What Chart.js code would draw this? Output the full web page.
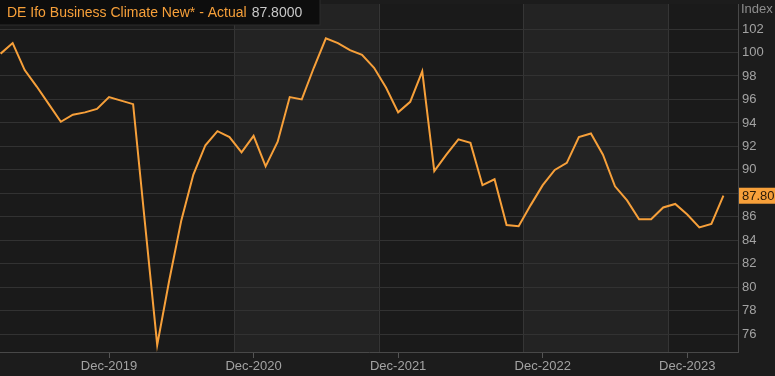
<!DOCTYPE html>
<html><head><meta charset="utf-8">
<script src="https://cdn.jsdelivr.net/npm/chart.js@4"></script>
<style>html,body{margin:0;padding:0;background:#1c1c1c;overflow:hidden}#wrap{width:775px;height:376px;position:relative}</style>
</head><body><div id="wrap"><canvas id="c" width="775" height="376"></canvas></div>
<script>
const months = ['Mar-2019','Apr-2019','May-2019','Jun-2019','Jul-2019','Aug-2019','Sep-2019','Oct-2019','Nov-2019','Dec-2019',
'Jan-2020','Feb-2020','Mar-2020','Apr-2020','May-2020','Jun-2020','Jul-2020','Aug-2020','Sep-2020','Oct-2020','Nov-2020','Dec-2020',
'Jan-2021','Feb-2021','Mar-2021','Apr-2021','May-2021','Jun-2021','Jul-2021','Aug-2021','Sep-2021','Oct-2021','Nov-2021','Dec-2021',
'Jan-2022','Feb-2022','Mar-2022','Apr-2022','May-2022','Jun-2022','Jul-2022','Aug-2022','Sep-2022','Oct-2022','Nov-2022','Dec-2022',
'Jan-2023','Feb-2023','Mar-2023','Apr-2023','May-2023','Jun-2023','Jul-2023','Aug-2023','Sep-2023','Oct-2023','Nov-2023','Dec-2023',
'Jan-2024','Feb-2024','Mar-2024'];
const values = [99.9,100.8,98.5,97.1,95.6,94.1,94.7,94.9,95.2,96.2,
95.9,95.6,85.3,75.1,80.6,85.7,89.6,92.1,93.3,92.8,91.5,92.9,
90.3,92.4,96.2,96.0,98.7,101.2,100.8,100.2,99.8,98.7,97.0,94.9,
95.8,98.4,89.9,91.3,92.6,92.3,88.7,89.2,85.3,85.2,87.0,88.7,
90.0,90.6,92.8,93.1,91.3,88.6,87.4,85.8,85.8,86.8,87.1,86.2,
85.1,85.4,87.8];
const xTickLabels = ['Dec-2019','Dec-2020','Dec-2021','Dec-2022','Dec-2023'];
const yTicks = [76,78,80,82,84,86,88,90,92,94,96,98,100,102];
const shadeStarts = ['Oct-2020','Oct-2022'];
const shadeEnds = ['Oct-2021','Oct-2023'];
const seriesName = 'DE Ifo Business Climate New* - Actual';
const lastLabel = '87.8000';
const badgeLabel = '87.80';
const unitLabel = 'Index';

const FONT = '"Liberation Sans", Arial, sans-serif';
const ORANGE = '#f7a03a';

const decor = {
  id: 'decor',
  beforeDraw(chart) {
    const {ctx, chartArea: a} = chart;
    const xs = chart.scales.x;
    ctx.save();
    ctx.fillStyle = '#1c1c1c';
    ctx.fillRect(0, 0, chart.width, chart.height);
    ctx.fillStyle = '#1a1a1a';
    ctx.fillRect(a.left, a.top, a.right - a.left, a.bottom - a.top);
    const bounds = [];
    shadeStarts.forEach((s, i) => {
      const x0 = xs.getPixelForValue(months.indexOf(s) + 0.4);
      const x1 = xs.getPixelForValue(months.indexOf(shadeEnds[i]) + 0.4);
      ctx.fillStyle = '#232323';
      ctx.fillRect(x0, a.top, x1 - x0, a.bottom - a.top);
      bounds.push(x0, x1);
    });
    ctx.strokeStyle = '#353535';
    ctx.lineWidth = 1;
    bounds.forEach(x => {
      const px = Math.round(x) + 0.5;
      ctx.beginPath(); ctx.moveTo(px, a.top); ctx.lineTo(px, a.bottom); ctx.stroke();
    });
    ctx.restore();
  },
  afterDraw(chart) {
    const {ctx, chartArea: a} = chart;
    const ys = chart.scales.y;
    ctx.save();
    ctx.fillStyle = '#0d0d0d';
    ctx.fillRect(0, 0, 320, 25);
    ctx.strokeStyle = '#2c2c2c';
    ctx.lineWidth = 1;
    ctx.strokeRect(-0.5, -0.5, 320.5, 25.5);
    ctx.font = '14px ' + FONT;
    ctx.textBaseline = 'middle';
    ctx.textAlign = 'left';
    ctx.fillStyle = ORANGE;
    ctx.fillText(seriesName, 7, 13);
    const w = ctx.measureText(seriesName).width;
    ctx.fillStyle = '#c9c9c9';
    ctx.fillText(lastLabel, 7 + w + 5, 13);
    ctx.font = '13px ' + FONT;
    ctx.fillStyle = '#8e8e8e';
    ctx.fillText(unitLabel, a.right + 3, 9);
    const by = ys.getPixelForValue(values[values.length - 1]);
    ctx.fillStyle = ORANGE;
    ctx.fillRect(a.right + 1, by - 8, chart.width - a.right - 1, 16);
    ctx.fillStyle = '#2a1a08';
    ctx.fillText(badgeLabel, a.right + 4, by + 0.5);
    ctx.restore();
  }
};

new Chart(document.getElementById('c'), {
  type: 'line',
  data: {
    datasets: [{
      label: seriesName,
      data: values.map((v, i) => ({x: i, y: v})),
      borderColor: ORANGE,
      borderWidth: 2,
      pointRadius: 0,
      tension: 0,
      fill: false
    }]
  },
  options: {
    responsive: false,
    animation: false,
    devicePixelRatio: 1,
    layout: {padding: {top: 4, left: 0, right: 0, bottom: 0}},
    plugins: {legend: {display: false}, tooltip: {enabled: false}},
    scales: {
      x: {
        type: 'linear',
        min: -0.05,
        max: 61.21,
        afterBuildTicks: s => { s.ticks = xTickLabels.map(l => ({value: months.indexOf(l)})); },
        afterFit: s => { s.height = 24; s.paddingLeft = 0; s.paddingRight = 0; },
        ticks: {
          callback: v => months[v],
          color: '#a3a3a3',
          font: {size: 13, family: FONT},
          maxRotation: 0,
          autoSkip: false,
          padding: 1
        },
        grid: {drawOnChartArea: false, color: '#555555', tickLength: 6},
        border: {color: '#484848'}
      },
      y: {
        position: 'right',
        min: 74.49,
        max: 104.13,
        afterBuildTicks: s => { s.ticks = yTicks.map(v => ({value: v})); },
        afterFit: s => { s.width = 37; s.paddingTop = 0; s.paddingBottom = 0; },
        ticks: {
          callback: v => (v === 88 ? '' : String(v)),
          color: '#a3a3a3',
          font: {size: 13, family: FONT},
          padding: 4
        },
        grid: {color: '#323232', drawTicks: false},
        border: {color: '#484848'}
      }
    }
  },
  plugins: [decor]
});
</script>
</body></html>
